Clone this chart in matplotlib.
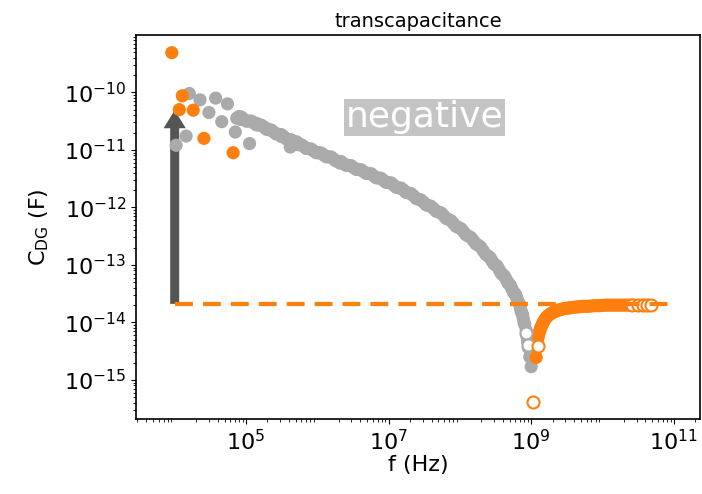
import numpy as np
import matplotlib
matplotlib.use('Agg')
import matplotlib.pyplot as plt

# values, stored as log10(f / Hz) and log10(|C| / F)

# negative transcapacitance (plotted as |C|), filled gray
gray_logf = [4.02, 4.16, 4.205, 4.355, 4.48, 4.575, 4.66, 4.74, 4.85, 4.92, 5.05,
             4.87, 5.15, 5.29, 5.50, 5.71, 5.62, 6.32,
             4.90, 4.97, 5.04, 5.11, 5.18, 5.25, 5.32, 5.39, 5.46, 5.53, 5.60, 5.67,
             5.74, 5.81, 5.88, 5.95, 6.02, 6.09, 6.16, 6.23, 6.30, 6.37, 6.44, 6.51,
             6.58, 6.65, 6.72, 6.79, 6.86, 6.93, 7.00, 7.07, 7.14, 7.21, 7.28, 7.35,
             7.42, 7.49, 7.56, 7.63, 7.70, 7.77, 7.84, 7.91, 7.98, 8.05, 8.12, 8.19,
             8.26, 8.33, 8.40, 8.45, 8.50, 8.55, 8.60, 8.65, 8.69, 8.73, 8.77, 8.80,
             8.83, 8.85, 8.87, 8.89, 8.91, 8.93, 8.94, 8.95, 8.96, 8.98, 9.00,
             4.935, 5.005, 5.075, 5.145, 5.215, 5.285, 5.355, 5.425, 5.495, 5.565,
             5.635, 5.705, 5.775, 5.845, 5.915, 5.985, 6.055, 6.125, 6.195, 6.265,
             6.335, 6.405, 6.475, 6.545, 6.615, 6.685, 6.755, 6.825, 6.895, 6.965,
             7.035, 7.105, 7.175, 7.245, 7.315, 7.385, 7.455, 7.525, 7.595, 7.665,
             7.735, 7.805, 7.875, 7.945, 8.015, 8.085, 8.155, 8.225, 8.295, 8.365,
             8.425, 8.475, 8.525, 8.575, 8.625, 8.67, 8.71, 8.75, 8.785, 8.815,
             8.84, 8.86, 8.88, 8.90]
gray_logc = [-10.92, -10.76, -10.02, -10.13, -10.35, -10.10, -10.51, -10.20, -10.69, -10.47, -10.89,
             -10.45, -10.54, -10.63, -10.77, -10.86, -10.95, -11.23,
             -10.42, -10.47, -10.50, -10.53, -10.57, -10.60, -10.65, -10.69, -10.73, -10.77, -10.82, -10.86,
             -10.91, -10.94, -10.98, -11.02, -11.05, -11.09, -11.12, -11.16, -11.20, -11.24, -11.27, -11.31,
             -11.34, -11.38, -11.41, -11.45, -11.49, -11.53, -11.57, -11.61, -11.66, -11.70, -11.75, -11.80,
             -11.86, -11.91, -11.97, -12.02, -12.08, -12.14, -12.21, -12.28, -12.35, -12.42, -12.50, -12.58,
             -12.66, -12.76, -12.85, -12.93, -13.00, -13.08, -13.17, -13.25, -13.33, -13.42, -13.50, -13.58,
             -13.67, -13.75, -13.84, -13.94, -14.04, -14.14, -14.24, -14.34, -14.44, -14.60, -14.77,
             -10.43, -10.50, -10.50, -10.565, -10.57, -10.64, -10.655, -10.725, -10.735, -10.81,
             -10.825, -10.90, -10.91, -10.975, -10.985, -11.05, -11.055, -11.12, -11.125, -11.195,
             -11.205, -11.27, -11.275, -11.34, -11.345, -11.41, -11.415, -11.485, -11.495, -11.565,
             -11.575, -11.65, -11.665, -11.74, -11.76, -11.845, -11.87, -11.955, -11.98, -12.065,
             -12.095, -12.19, -12.23, -12.33, -12.37, -12.475, -12.525, -12.635, -12.695, -12.82,
             -12.875, -12.98, -13.025, -13.14, -13.195, -13.305, -13.36, -13.475, -13.525, -13.64,
             -13.695, -13.81, -13.875, -14.005]

# positive transcapacitance, filled orange
orange_logf = [3.96, 4.065, 4.107, 4.26, 4.41, 4.82,
               9.07, 9.09, 9.10, 9.12, 9.14, 9.16, 9.19, 9.22, 9.26, 9.30, 9.35, 9.40,
               9.46, 9.52, 9.58, 9.65, 9.72, 9.80, 9.88, 9.96, 10.04, 10.12, 10.20,
               10.28, 10.36, 10.44,
               9.08, 9.105, 9.13, 9.15, 9.175, 9.205, 9.24, 9.28, 9.325, 9.375, 9.43,
               9.49, 9.55, 9.615, 9.685, 9.76, 9.84, 9.92, 10.00, 10.08, 10.16, 10.24,
               10.32, 10.40]
orange_logc = [-9.31, -10.30, -10.06, -10.31, -10.80, -11.05,
               -14.61, -14.35, -14.25, -14.15, -14.08, -14.02, -13.95, -13.90, -13.86, -13.83, -13.80, -13.78,
               -13.76, -13.75, -13.74, -13.73, -13.72, -13.72, -13.71, -13.71, -13.70, -13.70, -13.70,
               -13.70, -13.70, -13.70,
               -14.45, -14.20, -14.11, -14.05, -13.985, -13.925, -13.88, -13.845, -13.815, -13.79, -13.77,
               -13.755, -13.745, -13.735, -13.725, -13.72, -13.715, -13.71, -13.705, -13.70, -13.70, -13.70,
               -13.70, -13.70]

# second data set, hollow markers
gray_open_logf = [8.93, 8.95]
gray_open_logc = [-14.18, -14.40]
orange_open_logf = [9.02, 9.09, 10.42, 10.50, 10.57, 10.63, 10.68]
orange_open_logc = [-15.38, -14.41, -13.70, -13.70, -13.70, -13.70, -13.70]

# constant low-frequency level and arrow
level_f = [1e4, 1e11]
level_c = 2.1e-14
arrow_f = 1e4
arrow_top = 4.9e-11

label_x = 3.2e7
label_y = 3.7e-11

gray = '#aaaaaa'
orange = '#ff7f0e'

fig = plt.figure(figsize=(7.02, 4.94), dpi=100)
ax = fig.add_axes([0.1937, 0.1518, 0.8034, 0.7773])

ax.annotate('', xy=(arrow_f, arrow_top), xytext=(arrow_f, level_c),
            arrowprops=dict(facecolor='#555555', edgecolor='none', width=6.5,
                            headwidth=16, headlength=13, shrink=0), zorder=1)

ax.scatter(10.0 ** np.array(gray_logf), 10.0 ** np.array(gray_logc), s=90, color=gray,
           edgecolors='none', zorder=2)
ax.scatter(10.0 ** np.array(orange_logf), 10.0 ** np.array(orange_logc), s=90, color=orange,
           edgecolors='none', zorder=3)
ax.scatter(10.0 ** np.array(gray_open_logf), 10.0 ** np.array(gray_open_logc), s=75,
           facecolors='white', edgecolors=gray, linewidths=1.5, zorder=4)
ax.scatter(10.0 ** np.array(orange_open_logf), 10.0 ** np.array(orange_open_logc), s=75,
           facecolors='white', edgecolors=orange, linewidths=1.5, zorder=4)

ax.plot(level_f, [level_c, level_c], color=orange, lw=3, linestyle=(0, (4.3, 2.4)), zorder=5)

ax.text(label_x, label_y, 'negative', color='white', fontsize=26, ha='center', va='center',
        bbox=dict(facecolor='#c4c4c4', edgecolor='none', pad=1), zorder=6)

ax.set_xscale('log')
ax.set_yscale('log')
ax.set_xlim(10 ** 3.457, 10 ** 11.367)
ax.set_ylim(10 ** -15.68, 10 ** -9.003)
ax.set_xticks([1e5, 1e7, 1e9, 1e11])
ax.set_yticks([1e-15, 1e-14, 1e-13, 1e-12, 1e-11, 1e-10])

ax.tick_params(labelsize=16)
ax.set_xlabel('f (Hz)', fontsize=16, labelpad=1)
ax.set_ylabel(r'C$_{\mathrm{DG}}$ (F)', fontsize=16, labelpad=9)
ax.set_title('transcapacitance', fontsize=14)
for sp in ax.spines.values():
    sp.set_linewidth(1.2)

fig.savefig('out.png', dpi=100)
